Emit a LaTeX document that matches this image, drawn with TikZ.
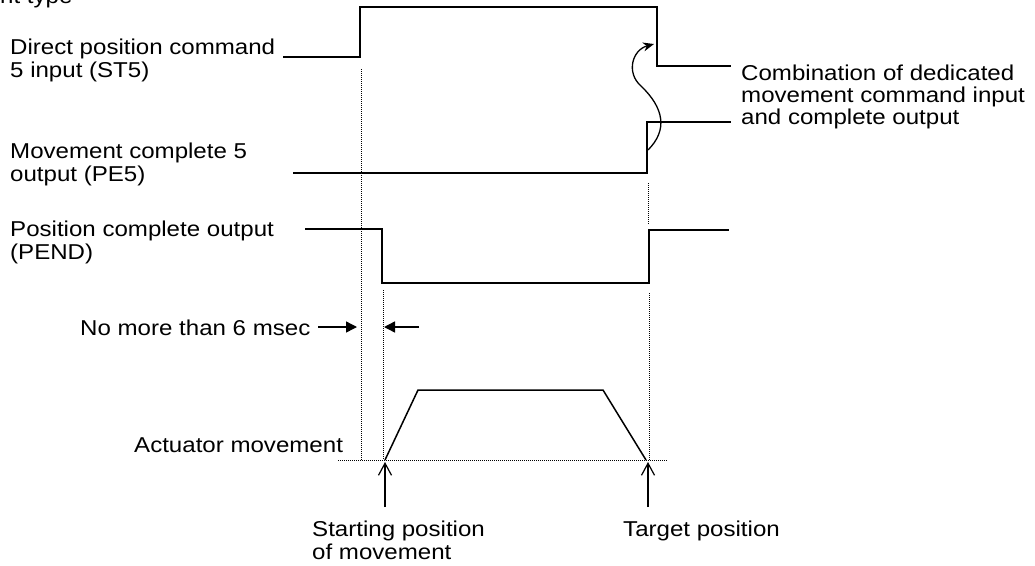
\documentclass[tikz,border=0pt]{standalone}
\usepackage{fontspec}
\setmainfont{Liberation Sans}[FakeStretch=1.12]
\usetikzlibrary{arrows.meta}
\begin{document}
\begin{tikzpicture}[x=1pt,y=-1pt,
  lbl/.style={anchor=base west, inner sep=0pt, font=\fontsize{21.5}{23}\selectfont},
  sig/.style={line width=1.6pt, line join=miter},
  guide/.style={line width=1pt, densely dotted},
  gap/.style={line width=1.4pt, -{Triangle[length=11pt,width=11pt]}},
  uparrow/.style={line width=1.2pt, -{Straight Barb[length=12pt,width=13pt,line width=1.2pt]}},
  link/.style={line width=1.3pt, -{Stealth[length=11pt,width=9pt]}}]
\useasboundingbox (0,0) rectangle (1035,565);

% texts
\node[lbl] (title) at (0,3) {nt type};
\node[lbl] (st5a) at (10,54) {Direct position command};
\node[lbl] (st5b) at (10,77) {5 input (ST5)};
\node[lbl] (pe5a) at (10,158) {Movement complete 5};
\node[lbl] (pe5b) at (10,181) {output (PE5)};
\node[lbl] (penda) at (10,236) {Position complete output};
\node[lbl] (pendb) at (10,259) {(PEND)};
\node[lbl] (msec) at (80,335) {No more than 6 msec};
\node[lbl] (act) at (134,452) {Actuator movement};
\node[lbl] (starta) at (312,536) {Starting position};
\node[lbl] (startb) at (312,559) {of movement};
\node[lbl] (target) at (623,536) {Target position};
\node[lbl] (comba) at (741,80) {Combination of dedicated};
\node[lbl] (combb) at (741,102) {movement command input};
\node[lbl] (combc) at (741,124) {and complete output};

% ST5
\coordinate (s0) at (283,57);
\coordinate (s1) at (360,57);
\coordinate (s2) at (360,7);
\coordinate (s3) at (657,7);
\coordinate (s4) at (657,66);
\coordinate (s5) at (731,66);
\draw[sig] (s0) -- (s1) -- (s2) -- (s3) -- (s4) -- (s5);

% PE5
\coordinate (p0) at (293,173);
\coordinate (p1) at (647,173);
\coordinate (p2) at (647,122);
\coordinate (p3) at (731,122);
\draw[sig] (p0) -- (p1) -- (p2) -- (p3);

% PEND
\coordinate (e0) at (305,229);
\coordinate (e1) at (382,229);
\coordinate (e2) at (382,283);
\coordinate (e3) at (649,283);
\coordinate (e4) at (649,230);
\coordinate (e5) at (729,230);
\draw[sig] (e0) -- (e1) -- (e2) -- (e3) -- (e4) -- (e5);

% guides
\coordinate (g1t) at (361,69);  \coordinate (g1b) at (361,460);
\coordinate (g2t) at (383,290); \coordinate (g2b) at (383,460);
\coordinate (g3t) at (648,183); \coordinate (g3b) at (648,225);
\coordinate (g4t) at (649,293); \coordinate (g4b) at (649,460);
\coordinate (bl) at (338,460);  \coordinate (br) at (667,460);
\draw[guide] (g1t) -- (g1b);
\draw[guide] (g2t) -- (g2b);
\draw[guide] (g3t) -- (g3b);
\draw[guide] (g4t) -- (g4b);
\draw[guide] (bl) -- (br);

% actuator movement profile
\coordinate (m0) at (385,460);
\coordinate (m1) at (418,390);
\coordinate (m2) at (603,390);
\coordinate (m3) at (646,460);
\draw[line width=1.5pt] (m0) -- (m1) -- (m2) -- (m3);

% 6 msec arrows
\coordinate (a1s) at (318,327); \coordinate (a1e) at (357,327);
\coordinate (a2s) at (419,327); \coordinate (a2e) at (384,327);
\draw[gap] (a1s) -- (a1e);
\draw[gap] (a2s) -- (a2e);

% up arrows
\coordinate (u1s) at (385,507); \coordinate (u1e) at (385,462);
\coordinate (u2s) at (648,507); \coordinate (u2e) at (648,462);
\draw[uparrow] (u1s) -- (u1e);
\draw[uparrow] (u2s) -- (u2e);

% curved link arrow
\coordinate (c0) at (648,150);
\coordinate (c1) at (641,86);
\coordinate (c2) at (654,44);
\draw[link] (c0) .. controls (668,130) and (664,108) .. (c1)
                 .. controls (626,73) and (632,50) .. (c2);
\end{tikzpicture}
\end{document}
